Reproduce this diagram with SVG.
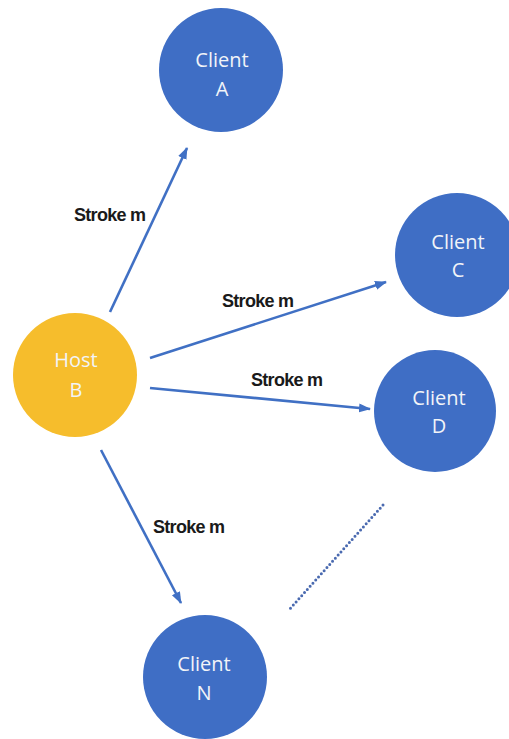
<svg xmlns="http://www.w3.org/2000/svg" width="509" height="739" viewBox="0 0 509 739">
  <style>
    .client circle { fill: #3F6EC5; }
    .host circle { fill: #F6BD2C; }
    .nt { font-family: "Open Sans", "Noto Sans", sans-serif; font-size: 20px; fill: #F2F4F8; text-anchor: middle; }
    .lbl { font-family: "Liberation Sans", Arial, sans-serif; font-weight: bold; font-size: 18px; fill: #1a1a1a; letter-spacing: -0.7px; }
    .edge { stroke: #4070C4; stroke-width: 2.6; fill: none; marker-end: url(#ah); }
  </style>
  <defs>
    <marker id="ah" markerUnits="userSpaceOnUse" markerWidth="12" markerHeight="10" refX="11" refY="4.5" orient="auto">
      <path d="M0,0 L12,4.5 L0,9 z" fill="#4070C4"/>
    </marker>
  </defs>
  <rect width="509" height="739" fill="#ffffff"/>

  <g id="connectors">
    <line class="edge" x1="110" y1="312" x2="187" y2="148"/>
    <line class="edge" x1="150" y1="358" x2="386" y2="282"/>
    <line class="edge" x1="150" y1="388" x2="370" y2="409"/>
    <line class="edge" x1="101" y1="450" x2="181" y2="603"/>
    <line x1="383" y1="505" x2="288" y2="611" stroke="#4A6AB0" stroke-width="3" stroke-linecap="round" stroke-dasharray="0 4.2"/>
  </g>

  <g id="labels">
    <text class="lbl" x="74" y="221">Stroke m</text>
    <text class="lbl" x="222" y="307">Stroke m</text>
    <text class="lbl" x="251" y="386">Stroke m</text>
    <text class="lbl" x="153" y="533">Stroke m</text>
  </g>

  <g id="hostB" class="host">
    <circle cx="75" cy="375" r="62"/>
    <text class="nt" x="76" y="367">Host</text>
    <text class="nt" x="76" y="397">B</text>
  </g>

  <g id="clientA" class="client">
    <circle cx="221" cy="70" r="62"/>
    <text class="nt" x="222" y="67">Client</text>
    <text class="nt" x="222" y="96">A</text>
  </g>

  <g id="clientC" class="client">
    <circle cx="457" cy="255" r="62"/>
    <text class="nt" x="458" y="249">Client</text>
    <text class="nt" x="458" y="277">C</text>
  </g>

  <g id="clientD" class="client">
    <circle cx="435" cy="411" r="61"/>
    <text class="nt" x="439" y="405">Client</text>
    <text class="nt" x="439" y="433">D</text>
  </g>

  <g id="clientN" class="client">
    <circle cx="205" cy="677" r="62"/>
    <text class="nt" x="204" y="671">Client</text>
    <text class="nt" x="204" y="700">N</text>
  </g>
</svg>
